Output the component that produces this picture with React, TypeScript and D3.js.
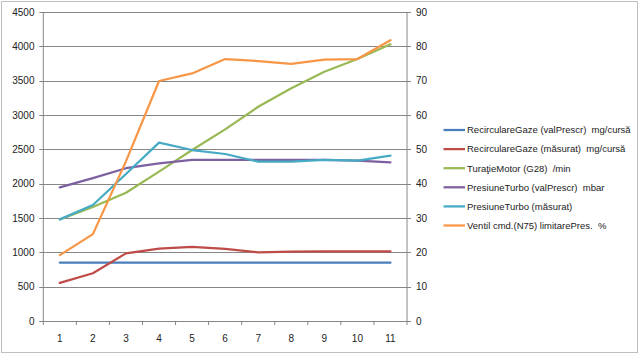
import React from "react";
import * as d3 from "d3";

const categories = ["1", "2", "3", "4", "5", "6", "7", "8", "9", "10", "11"];
const leftTicks = [0, 500, 1000, 1500, 2000, 2500, 3000, 3500, 4000, 4500];
const rightTicks = [0, 10, 20, 30, 40, 50, 60, 70, 80, 90];

const recircPrescr = [850, 850, 850, 850, 850, 850, 850, 850, 850, 850, 850];
const recircMasurat = [555, 695, 985, 1055, 1080, 1050, 1000, 1010, 1015, 1015, 1015];
const turatieMotor = [1480, 1660, 1868, 2175, 2490, 2790, 3120, 3390, 3630, 3815, 4030];
const presiunePrescr = [1945, 2080, 2225, 2297, 2345, 2345, 2345, 2345, 2345, 2334, 2311];
const presiuneMasurat = [1480, 1690, 2140, 2597, 2490, 2432, 2320, 2320, 2345, 2334, 2407];
const ventilN75 = [19.2, 25.3, 46.5, 69.9, 72.1, 76.3, 75.7, 74.9, 76.1, 76.3, 81.8];

const seriesNames = [
  "RecirculareGaze (valPrescr)  mg/cursă",
  "RecirculareGaze (măsurat)  mg/cursă",
  "TuraţieMotor (G28)  /min",
  "PresiuneTurbo (valPrescr)  mbar",
  "PresiuneTurbo (măsurat)",
  "Ventil cmd.(N75) limitarePres.  %",
];
const seriesColors = ["#4A7EBB", "#BE4B48", "#98B954", "#7D60A0", "#46AAC5", "#F79646"];

export default function App() {
  const W = 640, H = 357;
  const x0 = 43.3, x1 = 407, yTop = 12, yBot = 321;
  const x = d3.scaleBand().domain(categories).range([x0, x1]);
  const yL = d3.scaleLinear().domain([0, 4500]).range([yBot, yTop]);
  const yR = d3.scaleLinear().domain([0, 90]).range([yBot, yTop]);
  const cx = (c: string) => (x(c) as number) + x.bandwidth() / 2;

  const series = [
    { vals: recircPrescr, y: yL },
    { vals: recircMasurat, y: yL },
    { vals: turatieMotor, y: yL },
    { vals: presiunePrescr, y: yL },
    { vals: presiuneMasurat, y: yL },
    { vals: ventilN75, y: yR },
  ];

  const font = "'Liberation Sans', Arial, sans-serif";
  const gridColor = "#868686";
  const boundaries = d3.range(categories.length + 1).map((i) => x0 + i * x.step());

  return (
    <svg width={W} height={H} style={{ position: "absolute", left: 0, top: 0 }} fontFamily={font}>
      <rect x={0} y={0} width={W} height={H} fill="#fff" />
      <rect x={1.5} y={1.5} width={636} height={351} fill="none" stroke="#BFBFBF" strokeWidth={1} />
      {/* gridlines */}
      {leftTicks.map((t) => (
        <line key={"g" + t} x1={x0 - 4} x2={x1 + 4} y1={Math.round(yL(t)) + 0.5} y2={Math.round(yL(t)) + 0.5} stroke={gridColor} strokeWidth={1} />
      ))}
      {/* axes */}
      <line x1={x0} x2={x0} y1={yTop} y2={yBot} stroke={gridColor} />
      <line x1={x1} x2={x1} y1={yTop} y2={yBot} stroke={gridColor} />
      {boundaries.map((b, i) => (
        <line key={"xt" + i} x1={b} x2={b} y1={yBot} y2={yBot + 4} stroke={gridColor} />
      ))}
      {leftTicks.map((t) => (
        <text key={"lt" + t} x={34.5} y={yL(t)} dy="0.35em" textAnchor="end" fontSize={10} fill="#222">{t}</text>
      ))}
      {rightTicks.map((t) => (
        <text key={"rt" + t} x={416} y={yR(t)} dy="0.35em" textAnchor="start" fontSize={10} fill="#222">{t}</text>
      ))}
      {categories.map((c) => (
        <text key={"xc" + c} x={cx(c)} y={338} dy="0.35em" textAnchor="middle" fontSize={10} fill="#222">{c}</text>
      ))}
      {/* series */}
      {series.map((s, i) => {
        const line = d3.line<number>().x((_, j) => cx(categories[j])).y((v) => s.y(v));
        return (
          <path key={"s" + i} d={line(s.vals) || ""} fill="none" stroke={seriesColors[i]} strokeWidth={2.25} strokeLinejoin="round" strokeLinecap="round" />
        );
      })}
      {/* legend */}
      {seriesNames.map((n, i) => {
        const ly = 130 + i * 19.1;
        return (
          <g key={"lg" + i}>
            <line x1={443.5} x2={465} y1={ly} y2={ly} stroke={seriesColors[i]} strokeWidth={2.25} />
            <text x={467} y={ly} dy="0.35em" fontSize={9.5} fill="#222" style={{ whiteSpace: "pre" }}>{n}</text>
          </g>
        );
      })}
    </svg>
  );
}
